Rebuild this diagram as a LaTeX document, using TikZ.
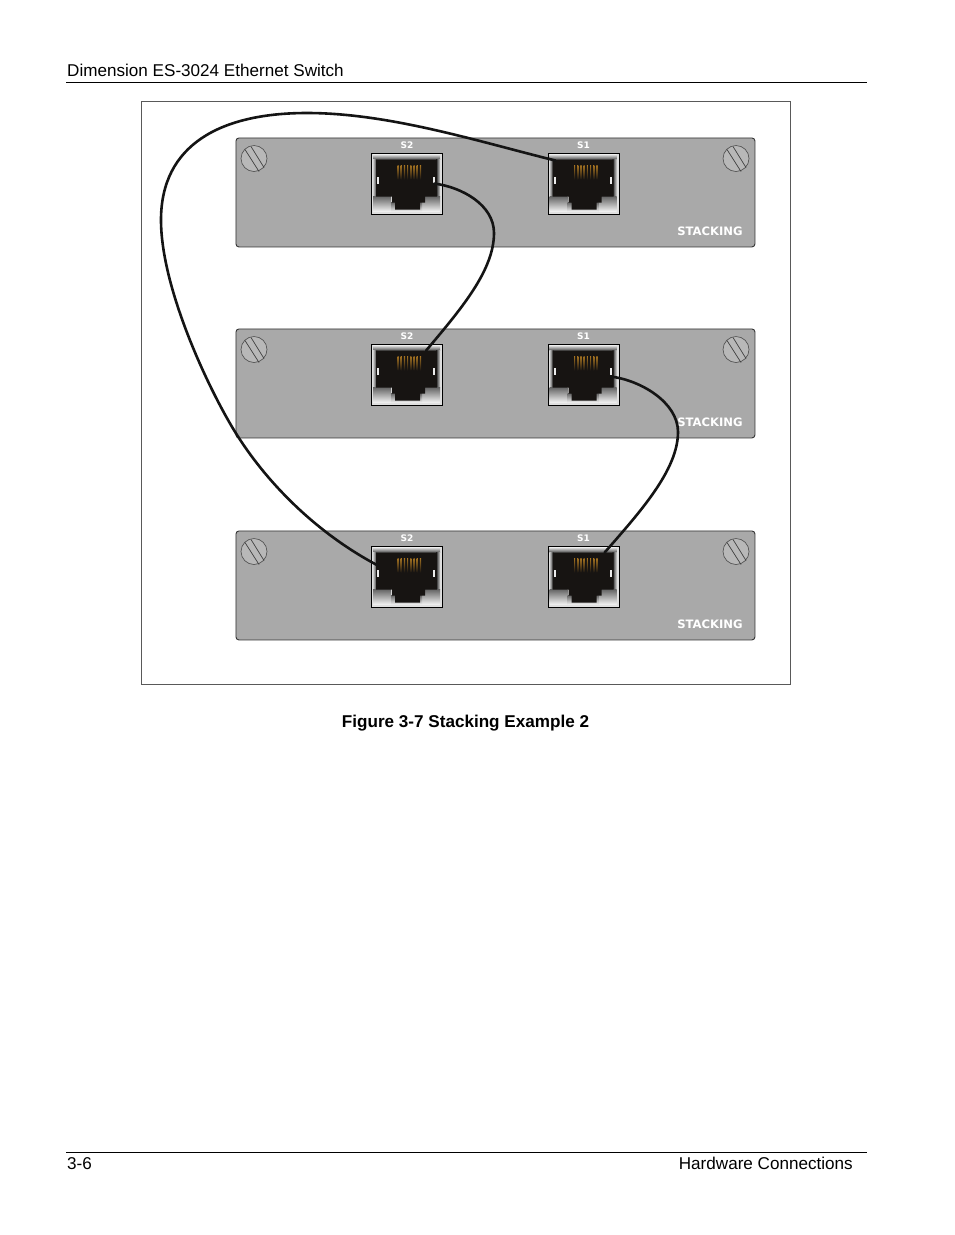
\documentclass[tikz,border=0pt]{standalone}
\usepackage{fontspec}
\setmainfont{Liberation Sans}
\newfontfamily\labelfont{DejaVu Sans}
\usetikzlibrary{calc}
\definecolor{panelgray}{HTML}{A9A9A9}
\definecolor{screwgray}{HTML}{B8B8B8}
\definecolor{pingold}{HTML}{D8962C}
\definecolor{jackblack}{HTML}{171412}
\tikzset{
  x=1pt,y=-1pt,
  pagetext/.style={font=\fontsize{17.1}{19}\selectfont,text=black,inner sep=0pt},
  pagerule/.style={draw=black,line width=0.8pt},
  frameline/.style={draw=black!65,line width=0.7pt},
  panelbox/.style={draw=black!80,line width=0.9pt,fill=panelgray,rounded corners=3pt,minimum width=519pt,minimum height=109pt,inner sep=0pt},
  jackbox/.style={draw=black,line width=1.1pt,minimum width=71pt,minimum height=61pt,inner sep=0pt,fill=black!12},
  screwbox/.style={circle,draw=black!70,line width=0.6pt,fill=screwgray,minimum size=26pt,inner sep=0pt},
  slotline/.style={draw=black!75,line width=0.7pt},
  stacktext/.style={font=\labelfont\bfseries\fontsize{11.6}{13}\selectfont,text=white,inner sep=0pt},
  porttext/.style={font=\labelfont\bfseries\fontsize{9}{10}\selectfont,text=white,inner sep=0pt},
  cable/.style={draw=black!92,line width=2.6pt,line cap=round,line join=round},
}
\newcommand{\screwunit}[3]{%
  \node[screwbox] (#1) at (#2,#3) {};
  \draw[slotline] ([shift={(-9,-9)}]#1.center) -- ([shift={(5,13)}]#1.center);
  \draw[slotline] ([shift={(-3,-12)}]#1.center) -- ([shift={(10,9)}]#1.center);
}
\newcommand{\jackunit}[4]{% name, left x, top y, label
  \node[jackbox,anchor=north west] (#1) at (#2,#3) {};
  \begin{scope}[shift={(#2,#3)}]
    \shade[top color=black!12,bottom color=black!70] (2,2) rectangle (69,7);
    \shade[left color=black!20,right color=black!85] (2,7) rectangle (6,44);
    \shade[left color=black!85,right color=black!20] (65,7) rectangle (69,44);
    \shade[top color=black!60,bottom color=black!5] (2,44) rectangle (20,59);
    \shade[top color=black!60,bottom color=black!5] (51,44) rectangle (69,59);
    \shade[top color=black!60,bottom color=black!5] (20,50) rectangle (51,59);
    \fill[jackblack] (5,7) -- (66,7) -- (66,44) -- (54,44) -- (54,50) -- (49,50) -- (49,57) -- (24,57) -- (24,50) -- (21,50) -- (21,44) -- (5,44) -- cycle;
    \foreach \px in {26.5,29.7,32.9,36.1,39.3,42.5,45.7,48.9}
      \shade[top color=pingold!75!black,bottom color=jackblack] (\px,13) rectangle (\px+1.1,27);
    \fill[white!92!black] (6.2,24) rectangle (8.4,31);
    \fill[white!92!black] (62,24) rectangle (64.2,31);
  \end{scope}
  \node[porttext] (#1t) at ($(#1.north)+(0,-7.5)$) {#4};
}
\newcommand{\panelunit}[2]{% name, top y
  \pgfmathsetmacro{\ysc}{#2+21}
  \pgfmathsetmacro{\yjk}{#2+15}
  \pgfmathsetmacro{\yst}{#2+94}
  \node[panelbox,anchor=north west] (#1) at (235.5,#2) {};
  \screwunit{#1sl}{254}{\ysc}
  \screwunit{#1sr}{736}{\ysc}
  \jackunit{#1a}{371}{\yjk}{S2}
  \jackunit{#1b}{547.5}{\yjk}{S1}
  \node[stacktext] (#1s) at (710,\yst) {STACKING};
}
\begin{document}
\begin{tikzpicture}
\useasboundingbox (0,0) rectangle (954,1235);
\fill[white] (0,0) rectangle (954,1235);
\node[pagetext,anchor=base west] (hdr) at (67,76) {Dimension ES-3024 Ethernet Switch};
\coordinate (hl) at (66,82.5); \coordinate (hr) at (867,82.5);
\draw[pagerule] (hl) -- (hr);
\node[frameline,minimum width=649pt,minimum height=583pt,inner sep=0pt,anchor=north west] (fig) at (141.3,101.3) {};
\panelunit{pa}{137.5}
\panelunit{pb}{328.5}
\panelunit{pc}{530.5}
\coordinate (c1a) at ([shift={(7,-11)}]pca.west);
\coordinate (c1b) at ([shift={(8,-23)}]pab.west);
\coordinate (c2a) at ([shift={(-9,0)}]paa.east);
\coordinate (c2b) at ([shift={(-17,-24)}]pba.east);
\coordinate (c3a) at ([shift={(-9,2)}]pbb.east);
\coordinate (c3b) at ([shift={(-15,-24)}]pcb.east);
\draw[cable] (c1a) .. controls (320,535) and (270,487) .. (237,435)
  .. controls (211,394) and (161,290) .. (161,220)
  .. controls (161,145) and (220,113) .. (307,113)
  .. controls (390,113) and (480,142) .. (c1b);
\draw[cable] (c2a) .. controls (462,187) and (494,205) .. (494,233)
  .. controls (494,270) and (462,308) .. (c2b);
\draw[cable] (c3a) .. controls (640,380) and (678,402) .. (678,432)
  .. controls (678,470) and (640,512) .. (c3b);
\node[pagetext,anchor=base,font=\bfseries\fontsize{17.1}{19}\selectfont] (cap) at (465.5,727) {Figure 3-7 Stacking Example 2};
\coordinate (fl) at (66,1152.5); \coordinate (fr) at (867,1152.5);
\draw[pagerule] (fl) -- (fr);
\node[pagetext,anchor=base west] (pg) at (67,1169) {3-6};
\node[pagetext,anchor=base east] (ch) at (853,1169) {Hardware Connections};
\end{tikzpicture}
\end{document}
